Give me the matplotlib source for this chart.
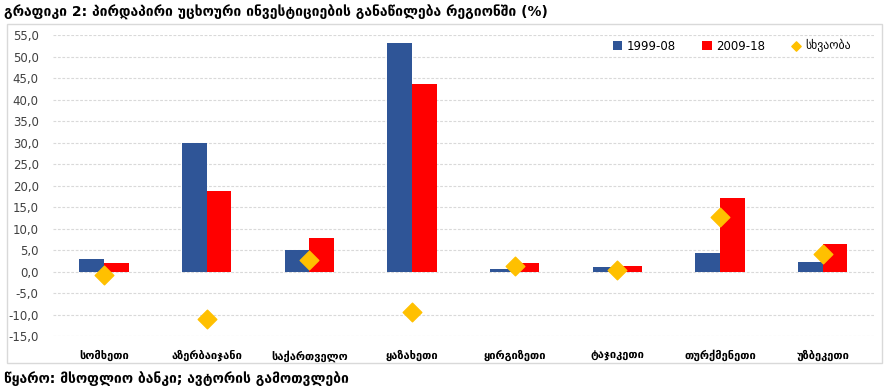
import matplotlib.pyplot as plt
import numpy as np
from matplotlib.patches import Rectangle

# Georgian text: DejaVu Sans has the glyphs
plt.rcParams['font.family'] = ['DejaVu Sans']

countries = ['სომხეთი', 'აზერბაიჯანი', 'საქართველო', 'ყაზახეთი',
             'ყირგიზეთი', 'ტაჯიკეთი', 'თურქმენეთი', 'უზბეკეთი']
period1 = [3.0, 30.0, 5.1, 53.2, 0.7, 1.0, 4.4, 2.3]     # 1999-08
period2 = [2.1, 18.8, 7.9, 43.7, 2.1, 1.4, 17.2, 6.3]    # 2009-18
diff = [-0.7, -11.0, 2.8, -9.5, 1.4, 0.4, 12.8, 4.0]     # სხვაობა
yticks = np.arange(-15, 56, 5)

fig = plt.figure(figsize=(8.91, 3.89), dpi=100)
ax = fig.add_axes([0.059, 0.136, 0.922, 0.774])

x = np.arange(len(countries))
w = 0.24
b1 = ax.bar(x - w / 2, period1, w, color='#2F5597', label='1999-08', zorder=2)
b2 = ax.bar(x + w / 2, period2, w, color='#FF0000', label='2009-18', zorder=2)
sc = ax.scatter(x, diff, marker='D', s=90, color='#FFC000', label='სხვაობა', zorder=3)

ax.set_xlim(-0.5, len(countries) - 0.5)
ax.set_ylim(-15, 55)
ax.set_yticks(yticks)
ax.set_yticklabels([f'{v:.1f}'.replace('.', ',') for v in yticks], fontsize=8.5, color='#404040')
ax.set_xticks(x)
ax.set_xticklabels(countries, fontsize=8, fontweight='bold')
ax.tick_params(axis='both', length=0)
ax.tick_params(axis='x', pad=10)
ax.tick_params(axis='y', pad=10)
for s in ax.spines.values():
    s.set_visible(False)
ax.grid(axis='y', color='#D9D9D9', linestyle=(0, (2.5, 1.5)), linewidth=0.8, zorder=0)

leg = ax.legend([b1, b2, sc], ['1999-08', '2009-18', 'სხვაობა'],
                loc='upper right', bbox_to_anchor=(0.985, 1.02), ncol=3, frameon=False,
                fontsize=8.5, handlelength=0.8, handleheight=0.8, columnspacing=2.2,
                handletextpad=0.4, markerscale=0.5)

# chart border
fig.patches.append(Rectangle((7 / 891, 1 - 363 / 389), 875 / 891, 339 / 389,
                             transform=fig.transFigure, fill=False,
                             edgecolor='#D9D9D9', linewidth=1))

fig.text(0.004, 0.968, 'გრაფიკი 2: პირდაპირი უცხოური ინვესტიციების განაწილება რეგიონში (%)',
         fontsize=10, fontweight='bold', va='center', ha='left')
fig.text(0.004, 0.028, 'წყარო: მსოფლიო ბანკი; ავტორის გამოთვლები',
         fontsize=10, fontweight='bold', va='center', ha='left')

fig.savefig('out.png', dpi=100)
